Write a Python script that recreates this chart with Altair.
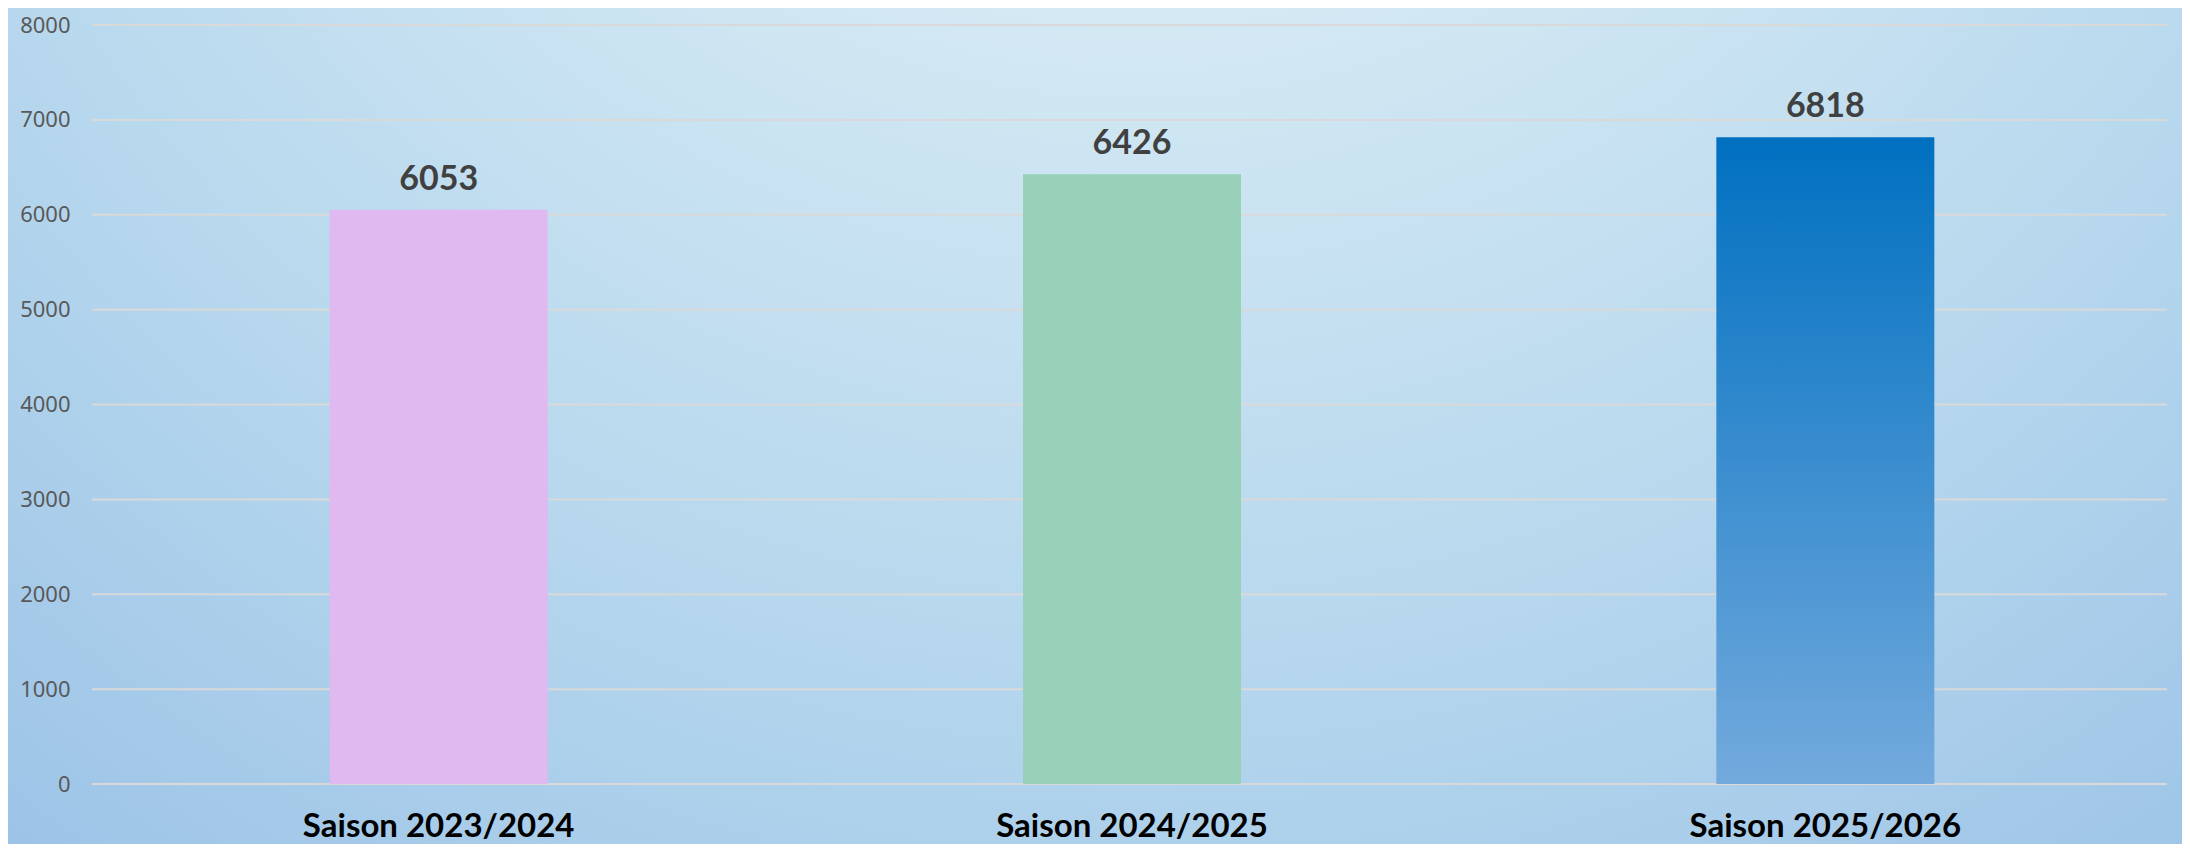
import altair as alt
import pandas as pd

# ---- data ----
seasons = ["Saison 2023/2024", "Saison 2024/2025", "Saison 2025/2026"]
values = [6053, 6426, 6818]
grid_values = [0, 1000, 2000, 3000, 4000, 5000, 6000, 7000, 8000]
bar_colors = ["#E0B9F0", "#99D0BA"]

W, H = 2080, 759
PL, PT, PR, PB = 84, 17, 10, 60

df = pd.DataFrame({"season": seasons, "value": values})
grid_df = pd.DataFrame({"v": grid_values})

x_scale = alt.Scale(domain=seasons, paddingInner=0, paddingOuter=0)
y_scale = alt.Scale(domain=[0, 8000], nice=False)

bg = alt.Chart(pd.DataFrame({"k": [0]})).mark_rect(
    color=alt.Gradient(
        gradient="radial",
        x1=0.52, y1=0.0, r1=0.0,
        x2=0.52, y2=0.0, r2=1.15,
        stops=[
            alt.GradientStop(offset=0.0, color="#EEF6FA"),
            alt.GradientStop(offset=0.25, color="#D6EAF4"),
            alt.GradientStop(offset=0.5, color="#B9D9EE"),
            alt.GradientStop(offset=0.75, color="#9DC4E7"),
            alt.GradientStop(offset=1.0, color="#80B1DE"),
        ],
    )
).encode(
    x=alt.value(-PL), x2=alt.value(W + PR),
    y=alt.value(-PT), y2=alt.value(H + PB),
)

grid = alt.Chart(grid_df).mark_rule(color="#D9D9D9", strokeWidth=2).encode(
    y=alt.Y("v:Q", scale=y_scale, axis=alt.Axis(
        title=None, grid=False, domain=False, ticks=False, zindex=2,
        values=grid_values, format="d", labelFontSize=22, labelColor="#595959",
        labelFont="Noto Sans", labelPadding=22,
    )),
    x=alt.value(0), x2=alt.value(W - 5),
)

base = alt.Chart(df).encode(
    x=alt.X("season:N", scale=x_scale, sort=seasons, axis=alt.Axis(
        title=None, domain=False, ticks=False, labelAngle=0, zindex=2,
        labelFontSize=33, labelFontWeight="bold", labelColor="#000000",
        labelFont="Lato", labelPadding=26, labelLimit=0,
    )),
    y=alt.Y("value:Q", scale=y_scale),
)

bars12 = base.transform_filter(
    alt.FieldOneOfPredicate(field="season", oneOf=seasons[:2])
).mark_bar(size=218).encode(
    color=alt.Color("season:N", scale=alt.Scale(domain=seasons[:2], range=bar_colors), legend=None)
)

bar3 = base.transform_filter(
    alt.FieldEqualPredicate(field="season", equal=seasons[2])
).mark_bar(size=218, color=alt.Gradient(
    gradient="linear", x1=0, y1=0, x2=0, y2=1,
    stops=[
        alt.GradientStop(offset=0.0, color="#0070C0"),
        alt.GradientStop(offset=1.0, color="#73AADD"),
    ],
))

labels = base.mark_text(
    dy=-20, baseline="alphabetic", fontSize=34, fontWeight="bold",
    color="#404040", font="Lato",
).encode(text=alt.Text("value:Q"))

chart = alt.layer(bg, grid, bars12, bar3, labels).properties(
    width=W, height=H,
    autosize=alt.AutoSizeParams(type="none"),
    padding={"left": PL, "top": PT, "right": PR, "bottom": PB},
).configure_view(stroke=None).configure(background="#A4C9E9")

chart.save("out.html", embed_options={"renderer": "svg", "actions": False})
